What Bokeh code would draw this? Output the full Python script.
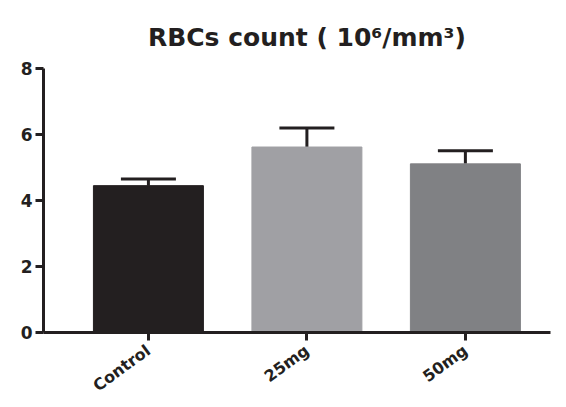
from bokeh.plotting import figure
from bokeh.models import Range1d, FixedTicker, ColumnDataSource, Whisker, TeeHead, Label
from bokeh.embed import file_html
from bokeh.resources import INLINE

title_text = "RBCs count ( 10\u2076/mm\u00b3)"
categories = ["Control", "25mg", "50mg"]
means = [4.45, 5.62, 5.11]
errors = [0.20, 0.58, 0.40]
colors = ["#231f20", "#a0a0a4", "#808184"]
y_ticks = [0, 2, 4, 6, 8]

xs = list(range(len(categories)))
src = ColumnDataSource(dict(
    x=xs, top=means, upper=[m + e for m, e in zip(means, errors)], color=colors,
))

FONT = "DejaVu Sans"
INK = "#231f20"

p = figure(width=558, height=405, output_backend="svg", toolbar_location=None,
           x_range=Range1d(-0.662, 2.537), y_range=Range1d(0, 10.06),
           min_border_left=43, min_border_right=8, min_border_top=0, min_border_bottom=73)

p.add_layout(Label(x=1.0, y=8.94, text=title_text, text_align="center",
                   text_baseline="alphabetic", text_font=FONT, text_font_size="25px",
                   text_font_style="bold", text_color=INK))

p.vbar(x="x", top="top", width=0.694, color="color", source=src)
w = Whisker(base="x", lower="top", upper="upper", source=src, dimension="height",
            line_width=3, line_color=INK,
            upper_head=TeeHead(size=55, line_width=3, line_color=INK),
            lower_head=None)
p.add_layout(w)

p.grid.visible = False
p.outline_line_color = None

p.xaxis.ticker = FixedTicker(ticks=xs)
p.xaxis.major_label_overrides = {i: c for i, c in enumerate(categories)}
p.xaxis.major_label_orientation = 0.63
p.yaxis.ticker = FixedTicker(ticks=y_ticks)
p.yaxis.bounds = (0, 8)

for ax in (p.xaxis, p.yaxis):
    ax.axis_line_width = 3
    ax.axis_line_color = INK
    ax.major_tick_line_width = 3
    ax.major_tick_line_color = INK
    ax.major_tick_in = 0
    ax.major_tick_out = 8
    ax.minor_tick_line_color = None
    ax.major_label_text_font = FONT
    ax.major_label_text_font_style = "bold"
    ax.major_label_text_color = INK
p.xaxis.major_label_text_font_size = "16px"
p.yaxis.major_label_text_font_size = "17px"
p.yaxis.major_label_standoff = 3
p.xaxis.major_label_standoff = 8

open("out.html", "w").write(file_html(p, INLINE))
